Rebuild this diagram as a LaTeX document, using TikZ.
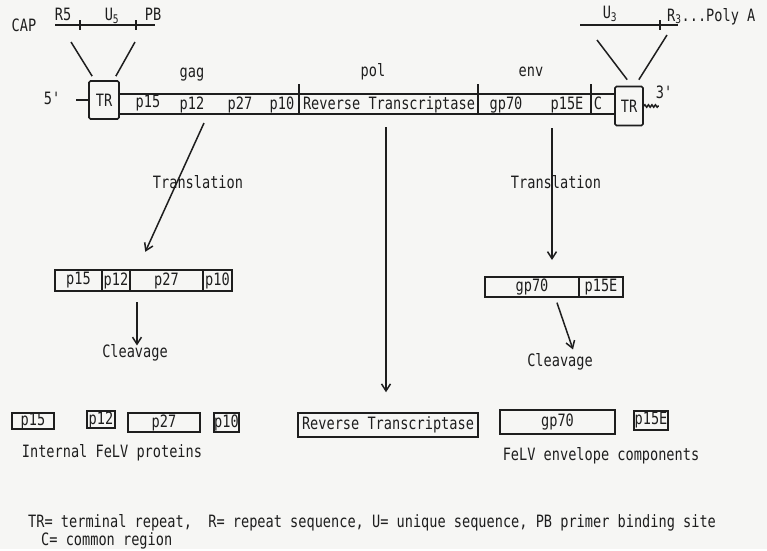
\documentclass[tikz,border=0pt]{standalone}
\usepackage{fontspec}
\newfontfamily\typefont{DejaVu Sans Mono}[FakeStretch=0.8]
\definecolor{ink}{RGB}{30,30,30}
\definecolor{paper}{RGB}{246,246,244}
\usetikzlibrary{arrows.meta,positioning,decorations.pathmorphing}

\begin{document}
\begin{tikzpicture}[x=1pt,y=-1pt,>={Straight Barb[length=7pt,width=9pt]},
  every node/.style={font=\typefont\fontsize{17}{20}\selectfont,text=ink,inner sep=1pt},
  line/.style={draw=ink,line width=1.5pt},
  arr/.style={draw=ink,line width=1.5pt,->},
  seg/.style={draw=ink,line width=1.5pt,inner sep=0pt,outer sep=0pt,minimum height=21pt},
  pbox/.style={draw=ink,line width=1.5pt,inner sep=0pt},
  trbox/.style={draw=ink,line width=1.7pt,rounded corners=1.5pt,inner sep=0pt,
              minimum width=30pt,minimum height=38pt},
  onbar/.style={anchor=base,inner sep=0pt}]
  \fill[paper] (0,0) rectangle (767,549);

  % long terminal repeats
  \node (cap) at (24,25) {CAP};
  \draw[line] (55,25) -- (155,25);
  \draw[line] (80,20) -- (80,30);
  \draw[line] (136,20) -- (136,30);
  \node (r5) at (63,14) {R5};
  \node (u5) at (112,16) {U\textsubscript{5}};
  \node (pb) at (153,14) {PB};
  \node[trbox] (ltr) at (104,100) {TR};
  \draw[line] (71,42) -- ([shift={(4pt,4pt)}]ltr.north west);
  \draw[line] (135,42) -- ([shift={(-4pt,4pt)}]ltr.north east);
  \node (five) at (52,98) {5'};
  \draw[line] (ltr.west) -- ++(-12,0);

  \draw[line] (580,25) -- (678,25);
  \draw[line] (660,20) -- (660,30);
  \node (u3) at (610,14) {U\textsubscript{3}};
  \node[anchor=base west] (polya) at (666,21) {R\textsubscript{3}...Poly A};
  \node[trbox,minimum width=28pt,minimum height=39pt] (rtr) at (629,106) {TR};
  \draw[line] (597,40) -- ([shift={(13pt,6pt)}]rtr.north west);
  \draw[line] (667,35) -- ([shift={(-5pt,6pt)}]rtr.north east);
  \draw[line,decorate,decoration={snake,amplitude=1.2pt,segment length=3.5pt}] (rtr.east) -- ++(15,0);
  \node (three) at (664,92) {3'};

  % genome
  \coordinate (btop) at (0,94);
  \coordinate (bbot) at (0,114);
  \draw[line] (ltr.east |- btop) -- (rtr.west |- btop);
  \draw[line] (ltr.east |- bbot) -- (rtr.west |- bbot);
  \draw[line] (299,84) -- (299,114);
  \draw[line] (478,84) -- (478,114);
  \draw[line] (591,84) -- (591,114);
  \node (gag) at (192,75) {gag};
  \node (pol) at (373,72) {pol};
  \node (env) at (531,72) {env};
  \node[onbar] (cp15) at (148,107) {p15};
  \node[onbar] (cp12) at (192,109) {p12};
  \node[onbar] (cp27) at (240,109) {p27};
  \node[onbar] (cp10) at (282,109) {p10};
  \node[onbar] (crt) at (389,109) {Reverse Transcriptase};
  \node[onbar] (cgp70) at (506,109) {gp70};
  \node[onbar] (cp15E) at (567,109) {p15E};
  \node[onbar] (cc) at (598,109) {C};

  % precursors
  \node (gtrans) at (198,182) {Translation};
  \node (etrans) at (556,182) {Translation};
  \node[seg,minimum width=47pt] (gp15) at (78.5,280.5) {p15};
  \node[seg,minimum width=28pt,right=0pt of gp15] (gp12) {p12};
  \node[seg,minimum width=73pt,right=0pt of gp12] (gp27) {p27};
  \node[seg,minimum width=29pt,right=0pt of gp27] (gp10) {p10};
  \node[seg,minimum width=94pt,minimum height=20pt] (egp70) at (532,287) {gp70};
  \node[seg,minimum width=44pt,minimum height=20pt,right=0pt of egp70] (ep15E) {p15E};
  \node (gcleave) at (135,353) {Cleavage};
  \node (ecleave) at (560,362) {Cleavage};

  % mature proteins
  \node[pbox,minimum width=42pt,minimum height=16pt] (bp15) at (33,421) {p15};
  \node[pbox,minimum width=28pt,minimum height=17pt] (bp12) at (101,419.5) {p12};
  \node[pbox,minimum width=72pt,minimum height=19pt] (bp27) at (164,422.5) {p27};
  \node[pbox,minimum width=25pt,minimum height=19pt] (bp10) at (226.5,422.5) {p10};
  \node[pbox,minimum width=180pt,minimum height=24pt] (brt) at (388,425) {Reverse Transcriptase};
  \node[pbox,minimum width=115pt,minimum height=24pt] (bgp70) at (557.5,422) {gp70};
  \node[pbox,minimum width=34pt,minimum height=19pt] (bp15E) at (651,420.5) {p15E};
  \node (intl) at (112,453) {Internal FeLV proteins};
  \node (envl) at (601,456) {FeLV envelope components};

  \coordinate (gagsrc) at (204,123);
  \coordinate (polsrc) at (386,127);
  \coordinate (envsrc) at (552,128);
  \draw[arr,shorten >=20pt] (gagsrc) -- ([xshift=7pt]gp27.north west);
  \draw[arr,shorten >=20pt] (polsrc) -- (polsrc |- brt.north);
  \draw[arr,shorten >=17pt] (envsrc) -- (envsrc |- egp70.north);
  \coordinate (gcut) at ([xshift=7pt]gp27.south west);
  \draw[arr,shorten <=11pt,shorten >=-2pt] (gcut) -- (gcut |- gcleave.north);
  \draw[arr,shorten <=6pt] ([xshift=-24pt]egp70.south east) -- ([shift={(13pt,3pt)}]ecleave.north);

  \node[anchor=west] (key1) at (27,523) {TR= terminal repeat,\ \ R= repeat sequence, U= unique sequence, PB primer binding site};
  \node[anchor=west] (key2) at (40,541) {C= common region};
\end{tikzpicture}
\end{document}
